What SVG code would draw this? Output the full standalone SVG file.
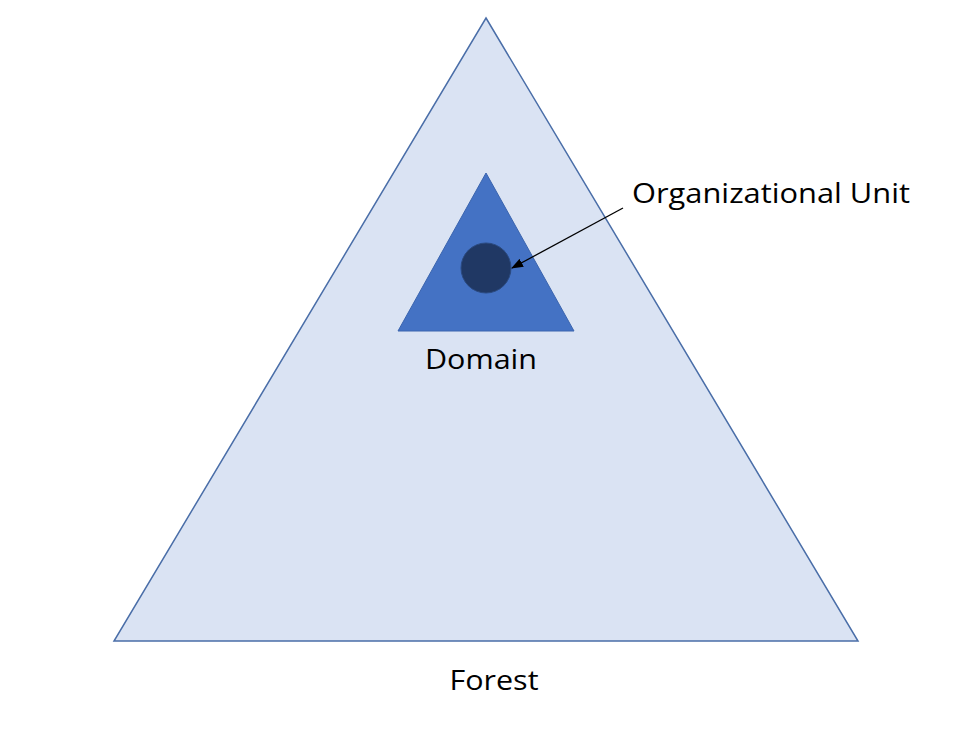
<svg xmlns="http://www.w3.org/2000/svg" width="975" height="730" viewBox="0 0 975 730">
<style>
text{font-family:"Open Sans","Liberation Sans",sans-serif;font-size:28px;fill:#000}
</style>
<defs>
<marker id="ah" markerWidth="12" markerHeight="9" refX="11" refY="4.5" orient="auto" markerUnits="userSpaceOnUse"><path d="M0,0 L12,4.5 L0,9 Z" fill="#000"/></marker>
</defs>
<rect width="975" height="730" fill="#fff"/>
<g id="forest">
<polygon points="486,18 858,641 114,641" fill="#dae3f3" stroke="#4a6ea8" stroke-width="1.5"/>
<text x="494" y="690" text-anchor="middle" textLength="89" lengthAdjust="spacingAndGlyphs">Forest</text>
</g>
<g id="domain">
<polygon points="486,173 574,331 398,331" fill="#4472c4" stroke="#3a64ae" stroke-width="1"/>
<text x="481" y="369" text-anchor="middle" textLength="112" lengthAdjust="spacingAndGlyphs">Domain</text>
</g>
<g id="ou">
<circle cx="486" cy="268" r="25" fill="#203864" stroke="#2b4a80" stroke-width="1"/>
<text x="632" y="203" textLength="278" lengthAdjust="spacingAndGlyphs">Organizational Unit</text>
</g>
<g id="connectors">
<line x1="623" y1="208" x2="512" y2="268" stroke="#000" stroke-width="1.3" marker-end="url(#ah)"/>
</g>
</svg>
